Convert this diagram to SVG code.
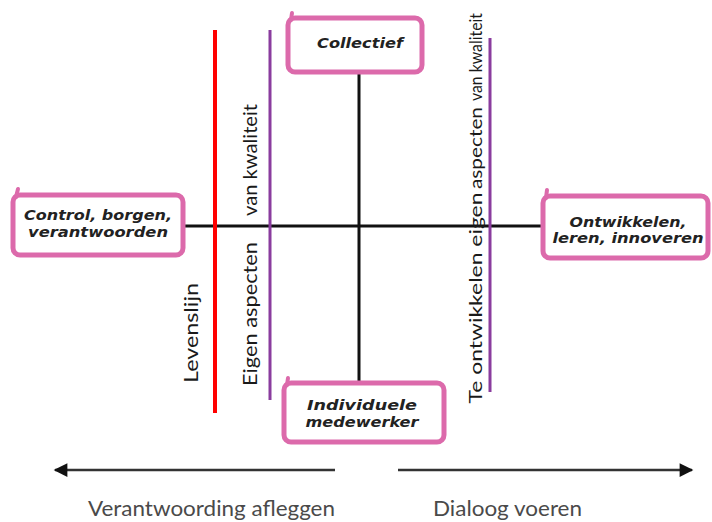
<svg xmlns="http://www.w3.org/2000/svg" width="712" height="522" viewBox="0 0 712 522">
<defs>
<style>
.box{fill:#fff;stroke:#dc6aab;stroke-width:5;stroke-linejoin:round}
.tick{stroke:#dc6aab;stroke-width:4;stroke-linecap:round;fill:none}
.bt{font-family:"DejaVu Sans","Liberation Sans",sans-serif;font-weight:bold;font-style:italic;font-size:14px;fill:#222;text-anchor:middle}
.vt{font-family:Lato,"Liberation Sans",sans-serif;fill:#1a1a1a;text-anchor:middle}
.lbl{font-family:Lato,"Liberation Sans",sans-serif;font-size:21px;fill:#4a4a4a}
.axis{stroke:#111;stroke-width:3;fill:none}
.arr{stroke:#333;stroke-width:2.5;fill:none}
</style>
<marker id="ah" viewBox="0 0 10 10" refX="9" refY="5" markerWidth="6" markerHeight="5.5" orient="auto-start-reverse" markerUnits="strokeWidth">
<path d="M0,0 L10,5 L0,10 z" fill="#111"/>
</marker>
</defs>
<rect width="712" height="522" fill="#fff"/>
<g id="connectors">
<line class="axis" x1="183" y1="226" x2="543" y2="226"/>
<line class="axis" x1="359" y1="72" x2="359" y2="383"/>
<line x1="215" y1="30" x2="215" y2="413" stroke="#ff0000" stroke-width="4"/>
<line x1="270" y1="30" x2="270" y2="400" stroke="#8a3c9e" stroke-width="3"/>
<line x1="490" y1="38" x2="490" y2="392" stroke="#8a3c9e" stroke-width="3"/>
<line class="arr" x1="335" y1="470" x2="55" y2="470" marker-end="url(#ah)"/>
<line class="arr" x1="398" y1="470" x2="692" y2="470" marker-end="url(#ah)"/>
</g>
<g id="node-control">
<rect class="box" x="13" y="195" width="170" height="60" rx="7"/>
<path class="tick" d="M16,197 L18,189"/>
<text class="bt" x="98" y="220" textLength="148" lengthAdjust="spacingAndGlyphs">Control, borgen,</text>
<text class="bt" x="98" y="237" textLength="140" lengthAdjust="spacingAndGlyphs">verantwoorden</text>
</g>
<g id="node-collectief">
<rect class="box" x="288" y="18" width="134" height="54" rx="7"/>
<path class="tick" d="M291,20 L292,13"/>
<text class="bt" x="360" y="48" textLength="86" lengthAdjust="spacingAndGlyphs">Collectief</text>
</g>
<g id="node-individuele">
<rect class="box" x="284" y="383" width="160" height="59" rx="7"/>
<path class="tick" d="M287,385 L288,378"/>
<text class="bt" x="362" y="410" textLength="110" lengthAdjust="spacingAndGlyphs">Individuele</text>
<text class="bt" x="362" y="427" textLength="113" lengthAdjust="spacingAndGlyphs">medewerker</text>
</g>
<g id="node-ontwikkelen">
<rect class="box" x="543" y="196" width="165" height="62" rx="7"/>
<path class="tick" d="M546,198 L547,190"/>
<text class="bt" x="628" y="227" textLength="117" lengthAdjust="spacingAndGlyphs">Ontwikkelen,</text>
<text class="bt" x="628" y="243" textLength="151" lengthAdjust="spacingAndGlyphs">leren, innoveren</text>
</g>
<g id="vertical-labels">
<text class="vt" font-size="20" transform="translate(198,333) rotate(-90)" textLength="100" lengthAdjust="spacingAndGlyphs">Levenslijn</text>
<text class="vt" font-size="20" transform="translate(257,160) rotate(-90)" textLength="112" lengthAdjust="spacingAndGlyphs">van kwaliteit</text>
<text class="vt" font-size="20" transform="translate(257,314) rotate(-90)" textLength="144" lengthAdjust="spacingAndGlyphs">Eigen aspecten</text>
<text class="vt" font-size="18" transform="translate(482,57) rotate(-90)" textLength="88" lengthAdjust="spacingAndGlyphs">van kwaliteit</text>
<text class="vt" font-size="18" transform="translate(482,148) rotate(-90)" textLength="82" lengthAdjust="spacingAndGlyphs">aspecten</text>
<text class="vt" font-size="18" transform="translate(482,298) rotate(-90)" textLength="211" lengthAdjust="spacingAndGlyphs">Te ontwikkelen eigen</text>
</g>
<g id="bottom-labels">
<text class="lbl" x="88" y="516" textLength="247" lengthAdjust="spacingAndGlyphs">Verantwoording afleggen</text>
<text class="lbl" x="433" y="516" textLength="149" lengthAdjust="spacingAndGlyphs">Dialoog voeren</text>
</g>
</svg>
